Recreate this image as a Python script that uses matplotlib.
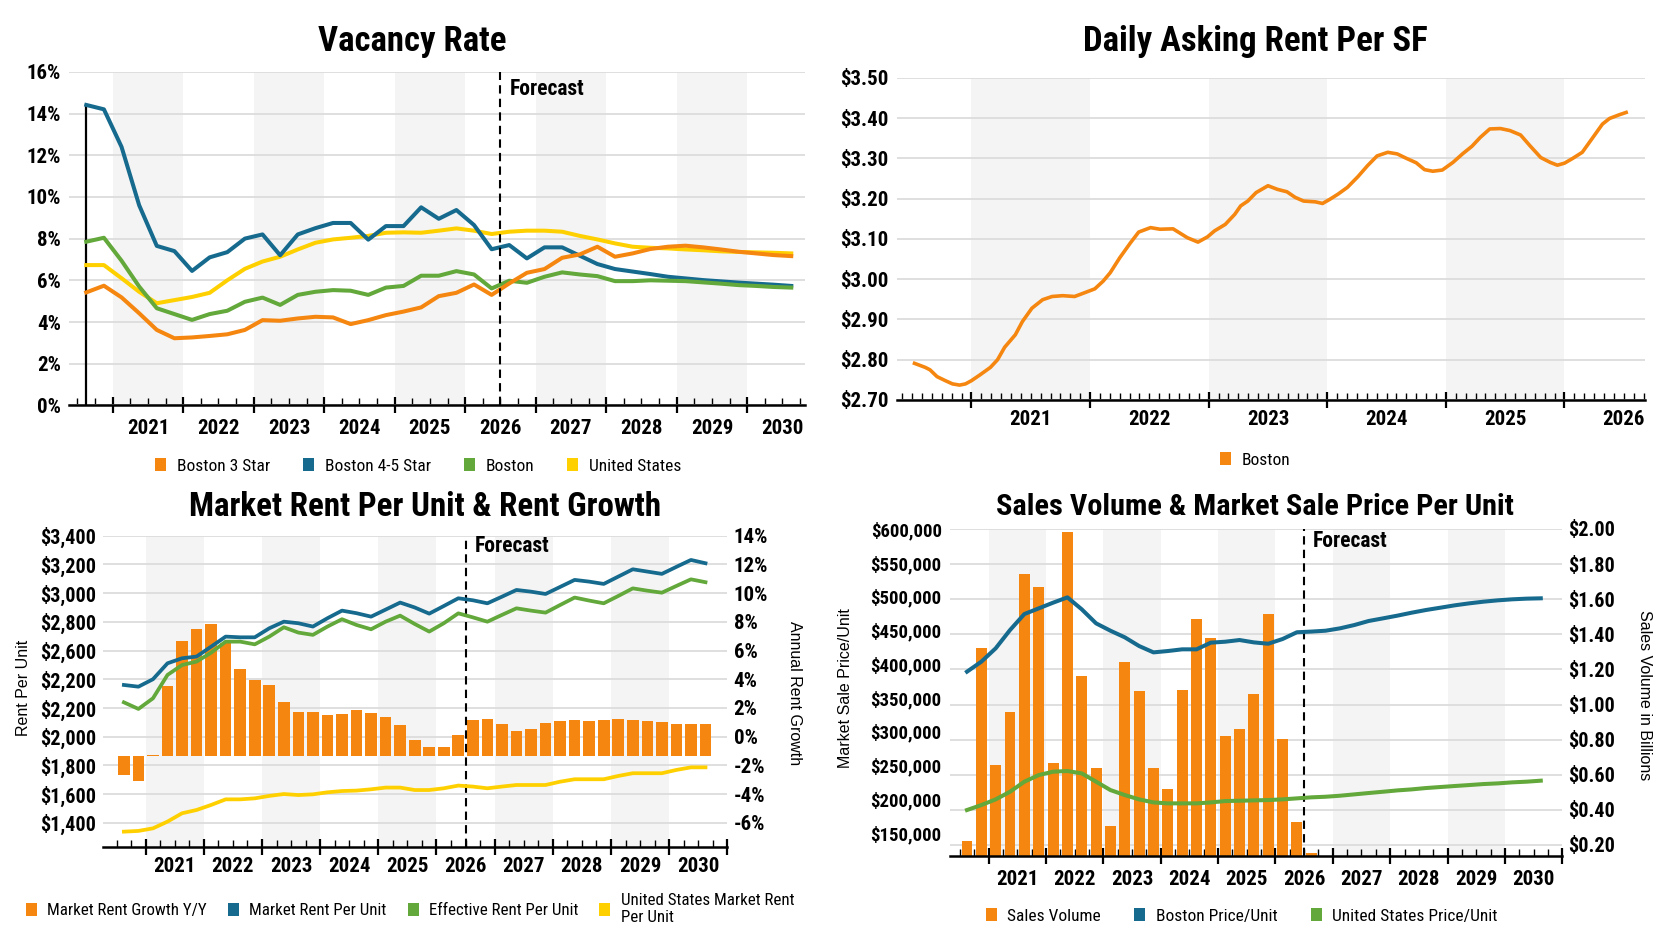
import matplotlib
matplotlib.use("Agg")
import matplotlib.pyplot as plt
from matplotlib import font_manager as fm
from matplotlib.patches import Patch
import numpy as np

# narrow face for the chart text: take the first one that is installed
_names = {f.name for f in fm.fontManager.ttflist}
PREF = ["Liberation Sans Narrow", "Arial Narrow", "Roboto Condensed", "Archivo Narrow",
        "PT Sans Narrow", "Fira Sans Condensed", "IBM Plex Sans Condensed",
        "Open Sans Condensed", "Asap Condensed", "Sofia Sans Condensed"]
NARROW = next((n for n in PREF if n in _names), "DejaVu Sans")
plt.rcParams["font.family"] = [NARROW, "DejaVu Sans"]
plt.rcParams["font.weight"] = "bold"
PLAIN = ["Liberation Sans", "DejaVu Sans"]

ORANGE = "#F5860F"
BLUE = "#156A8E"
GREEN = "#62A83A"
YELLOW = "#FFD000"
GRID = "#DCDCDC"
SHADE = "#F4F4F4"

# ---------------- data ----------------
QUARTERS = [f"{y} Q{q}" for y in range(2020, 2031) for q in range(1, 5)][2:43]
FORECAST = 2026.5

# Vacancy rate (%)
VAC_BOS3 = [5.42, 5.74, 5.18, 4.42, 3.62, 3.22, 3.26, 3.33, 3.41, 3.62,
            4.09, 4.06, 4.17, 4.25, 4.22, 3.90, 4.09, 4.33, 4.50, 4.70,
            5.24, 5.40, 5.80, 5.30, 5.85, 6.36, 6.54, 7.08, 7.24, 7.61,
            7.13, 7.29, 7.50, 7.61, 7.66, 7.58, 7.48, 7.37, 7.29, 7.21, 7.16]
VAC_BOS45 = [14.41, 14.20, 12.40, 9.60, 7.65, 7.40, 6.45, 7.10, 7.35, 8.00,
             8.20, 7.20, 8.20, 8.50, 8.75, 8.75, 7.95, 8.60, 8.60, 9.50,
             8.95, 9.37, 8.65, 7.49, 7.69, 7.05, 7.58, 7.58, 7.18, 6.78,
             6.54, 6.42, 6.30, 6.17, 6.09, 6.01, 5.95, 5.89, 5.84, 5.79, 5.73]
VAC_BOSTON = [7.85, 8.04, 6.94, 5.70, 4.66, 4.38, 4.10, 4.38, 4.54, 4.97,
              5.17, 4.82, 5.30, 5.45, 5.53, 5.50, 5.30, 5.65, 5.73, 6.22,
              6.22, 6.44, 6.28, 5.61, 5.98, 5.88, 6.17, 6.38, 6.28, 6.20,
              5.96, 5.96, 6.00, 5.98, 5.96, 5.90, 5.84, 5.77, 5.73, 5.68, 5.65]
VAC_US = [6.73, 6.73, 6.10, 5.45, 4.90, 5.05, 5.20, 5.40, 6.00, 6.55,
          6.90, 7.13, 7.48, 7.80, 7.96, 8.04, 8.13, 8.28, 8.30, 8.28,
          8.38, 8.49, 8.38, 8.22, 8.33, 8.38, 8.38, 8.33, 8.13, 7.96,
          7.77, 7.61, 7.56, 7.53, 7.48, 7.44, 7.39, 7.36, 7.34, 7.32, 7.29]
VAC_TICKS = [0, 2, 4, 6, 8, 10, 12, 14, 16]

# Daily asking rent per SF
DATES = [2020.52, 2020.61, 2020.65, 2020.71, 2020.78, 2020.84, 2020.90, 2020.95,
         2021.00, 2021.07, 2021.16, 2021.22, 2021.28, 2021.37, 2021.43, 2021.51,
         2021.60, 2021.68, 2021.77, 2021.87, 2021.96,
         2022.04, 2022.11, 2022.17, 2022.25, 2022.34, 2022.41, 2022.51, 2022.59,
         2022.70, 2022.76, 2022.82, 2022.91, 2022.99,
         2023.05, 2023.14, 2023.22, 2023.27, 2023.33, 2023.40, 2023.50, 2023.58,
         2023.66, 2023.73, 2023.80, 2023.90, 2023.96,
         2024.02, 2024.09, 2024.17, 2024.26, 2024.34, 2024.42, 2024.51, 2024.59,
         2024.66, 2024.75, 2024.82, 2024.89, 2024.97,
         2025.06, 2025.14, 2025.22, 2025.29, 2025.37, 2025.46, 2025.54, 2025.63,
         2025.71, 2025.80, 2025.88, 2025.94,
         2026.00, 2026.07, 2026.15, 2026.24, 2026.32, 2026.38, 2026.46, 2026.52]
RENT_SF = [2.791, 2.781, 2.775, 2.758, 2.748, 2.740, 2.737, 2.740,
           2.748, 2.762, 2.781, 2.800, 2.831, 2.862, 2.895, 2.928,
           2.949, 2.957, 2.959, 2.957, 2.967,
           2.976, 2.995, 3.016, 3.053, 3.090, 3.117, 3.128, 3.124,
           3.125, 3.114, 3.103, 3.092, 3.105,
           3.120, 3.136, 3.161, 3.182, 3.194, 3.215, 3.232, 3.223,
           3.217, 3.203, 3.194, 3.192, 3.188,
           3.198, 3.211, 3.228, 3.255, 3.282, 3.306, 3.315, 3.311,
           3.301, 3.289, 3.272, 3.268, 3.271,
           3.290, 3.311, 3.330, 3.352, 3.373, 3.374, 3.369, 3.358,
           3.331, 3.302, 3.290, 3.283,
           3.288, 3.300, 3.315, 3.352, 3.385, 3.399, 3.408, 3.414]
SF_TICKS = [2.70, 2.80, 2.90, 3.00, 3.10, 3.20, 3.30, 3.40, 3.50]

# Market rent per unit & growth
GROWTH = [-2.67, -3.09, -1.28, 3.53, 6.67, 7.50, 7.85, 6.55, 4.69, 3.95,
          3.60, 2.44, 1.74, 1.72, 1.51, 1.58, 1.86, 1.63, 1.35, 0.79,
          -0.26, -0.72, -0.70, 0.12, 1.16, 1.25, 0.86, 0.37, 0.53, 0.93,
          1.07, 1.14, 1.09, 1.14, 1.21, 1.18, 1.09, 1.02, 0.91, 0.88, 0.88]
BAR_BASE = -1.35
MKT_RENT = [2360, 2348, 2400, 2511, 2546, 2558, 2627, 2697, 2692, 2692,
            2755, 2801, 2790, 2767, 2825, 2878, 2860, 2836, 2885, 2934,
            2900, 2857, 2910, 2964, 2950, 2929, 2975, 3022, 3010, 2994,
            3043, 3092, 3080, 3064, 3115, 3166, 3150, 3134, 3183, 3231, 3208]
EFF_RENT = [2239, 2193, 2267, 2430, 2499, 2523, 2585, 2662, 2662, 2643,
            2697, 2762, 2725, 2709, 2767, 2818, 2778, 2748, 2801, 2843,
            2785, 2732, 2790, 2859, 2831, 2801, 2848, 2894, 2878, 2864,
            2917, 2969, 2948, 2929, 2980, 3033, 3017, 3003, 3050, 3096, 3076]
US_RENT = [1338, 1343, 1361, 1408, 1466, 1489, 1524, 1563, 1563, 1570,
           1587, 1600, 1593, 1598, 1612, 1621, 1624, 1633, 1645, 1645,
           1628, 1628, 1640, 1659, 1652, 1640, 1652, 1663, 1663, 1663,
           1686, 1703, 1703, 1703, 1726, 1745, 1745, 1745, 1768, 1786, 1786]
RENT_TICKS = [1400, 1600, 1800, 2000, 2200, 2400, 2600, 2800, 3000, 3200, 3400]
RENT_TICK_LABELS = ["$1,400", "$1,600", "$1,800", "$2,000", "$2,200", "$2,200",
                    "$2,600", "$2,800", "$3,000", "$3,200", "$3,400"]
GROWTH_TICKS = [-6, -4, -2, 0, 2, 4, 6, 8, 10, 12, 14]

# Sales volume & sale price per unit
SALES = [0.225, 1.324, 0.656, 0.956, 1.744, 1.668, 0.669, 1.981, 1.165, 0.637,
         0.308, 1.244, 1.079, 0.641, 0.519, 1.081, 1.485, 1.377, 0.821, 0.863,
         1.058, 1.516, 0.806, 0.331, 0.153]
BOS_PRICE = [388600, 403400, 423200, 450300, 474000, 482400, 490800, 498700, 481000, 460200,
             449300, 439500, 426600, 417200, 419200, 421700, 421700, 431600, 433000, 435500,
             432000, 430000, 437000, 447000, 448000, 449300, 452800, 457700, 463700, 467600,
             471600, 476000, 480000, 483400, 486900, 489800, 492300, 494300, 495800, 496800, 497300]
US_PRICE = [183600, 191000, 199400, 210700, 225600, 235400, 240400, 241400, 237900, 225600,
            213200, 205800, 199400, 194900, 193500, 193500, 193500, 194900, 196900, 197400,
            197900, 198400, 199400, 200900, 202400, 203300, 204800, 206800, 208800, 210700,
            212700, 214200, 216200, 217700, 219200, 220600, 222100, 223100, 224600, 225600, 227100]
PRICE_TICKS = [150000, 200000, 250000, 300000, 350000, 400000, 450000, 500000, 550000, 600000]
VOL_TICKS = [0.2, 0.4, 0.6, 0.8, 1.0, 1.2, 1.4, 1.6, 1.8, 2.0]


def qpos(label):
    y, q = label.split(" Q")
    return int(y) + (int(q) - 0.5) / 4


QX = np.array([qpos(q) for q in QUARTERS])

W, H = 1672, 941
fig = plt.figure(figsize=(W / 100, H / 100), dpi=100)


def box(l, t, r, b):
    return [l / W, 1 - b / H, (r - l) / W, (b - t) / H]


def year_axis(ax, x0, x1, sub, pad):
    ax.set_xlim(x0, x1)
    first, last = int(np.ceil(x0)), int(np.floor(x1))
    years = list(range(first, last + 1))
    ax.set_xticks(years)
    ax.set_xticklabels([])
    minor, labels = [], []
    for y in range(first - 1, last + 1):
        for k in range(1, sub):
            p = y + k / sub
            if x0 <= p <= x1:
                minor.append(p)
                labels.append(str(y) if (2 * k == sub and y >= first) else "")
    ax.set_xticks(minor, minor=True)
    ax.set_xticklabels(labels, minor=True)
    for y in years:
        if y % 2 == 1:
            ax.axvspan(y, y + 1, color=SHADE, lw=0, zorder=0)
    ax.tick_params(axis="x", which="major", direction="inout", length=12, width=1.6)
    ax.tick_params(axis="x", which="minor", direction="in", length=5, width=1.0,
                   labelsize=15, pad=pad)
    for s in ["top", "left", "right"]:
        ax.spines[s].set_visible(False)
    ax.spines["bottom"].set_linewidth(1.8)
    ax.grid(axis="y", color=GRID, lw=1.3)
    ax.set_axisbelow(True)


def y_ticks(ax, ticks, labels, pad, size=15):
    ax.set_yticks(ticks)
    ax.set_yticklabels(labels)
    ax.tick_params(axis="y", length=0, pad=pad, labelsize=size)


def forecast(ax, dx, dy, z=4):
    ax.axvline(FORECAST, color="black", ls=(0, (4, 2.5)), lw=1.5, zorder=z)
    ax.annotate("Forecast", xy=(FORECAST, 1), xycoords=("data", "axes fraction"),
                xytext=(dx, dy), textcoords="offset points", fontsize=15.5,
                fontweight="bold", va="baseline", ha="left")


def legend(items, x, y, spacing, size=12.5):
    handles = [Patch(facecolor=c, edgecolor="none", label=l) for l, c in items]
    fig.legend(handles=handles, loc="center", bbox_to_anchor=(x, y), ncol=len(items),
               frameon=False, prop=dict(size=size, weight="normal"),
               handlelength=0.65, handleheight=0.8, handletextpad=0.6,
               columnspacing=spacing)


def title(text, x, y, size=25):
    fig.text(x / W, 1 - y / H, text, ha="center", va="baseline",
             fontsize=size, fontweight="bold")


# ---------------- Vacancy Rate ----------------
ax1 = fig.add_axes(box(69.3, 71.8, 805, 405.4))
year_axis(ax1, 2020.384, 2030.82, 4, 9.5)
ax1.set_ylim(0, 16)
y_ticks(ax1, VAC_TICKS, [f"{v}%" for v in VAC_TICKS], 6)
ax1.plot([QX[0], QX[0]], [0, VAC_BOS45[0]], color="black", lw=1.6, zorder=3)
ax1.plot(QX, VAC_US, color=YELLOW, lw=2.9, zorder=3)
ax1.plot(QX, VAC_BOS45, color=BLUE, lw=2.9, zorder=3)
ax1.plot(QX, VAC_BOSTON, color=GREEN, lw=2.9, zorder=3)
ax1.plot(QX, VAC_BOS3, color=ORANGE, lw=2.9, zorder=3)
forecast(ax1, 7, -16.5)
title("Vacancy Rate", 412.6, 51.2)
legend([("Boston 3 Star", ORANGE), ("Boston 4-5 Star", BLUE),
        ("Boston", GREEN), ("United States", YELLOW)], 418 / W, 1 - 466 / H, 1.9)

# ---------------- Daily Asking Rent Per SF ----------------
ax2 = fig.add_axes(box(896.5, 77.8, 1645, 400))
year_axis(ax2, 2020.368, 2026.679, 12, 7)
ax2.set_ylim(2.70, 3.50)
y_ticks(ax2, SF_TICKS, [f"${v:.2f}" for v in SF_TICKS], 6)
ax2.plot(DATES, RENT_SF, color=ORANGE, lw=2.6, zorder=3)
title("Daily Asking Rent Per SF", 1255, 51.2)
legend([("Boston", ORANGE)], 1255 / W, 1 - 460 / H, 2.0)

# ---------------- Market Rent Per Unit & Rent Growth ----------------
ax3 = fig.add_axes(box(103.3, 535.7, 727.3, 847))
year_axis(ax3, 2020.271, 2031.0, 4, 7.5)
ax3l = ax3.twinx()
ax3.yaxis.tick_right()
ax3l.yaxis.tick_left()
ax3.set_ylim(-7.69, 14)
ax3l.set_ylim(1231, 3400)
y_ticks(ax3, GROWTH_TICKS, [f"{v}%" for v in GROWTH_TICKS], 4.5)
y_ticks(ax3l, RENT_TICKS, RENT_TICK_LABELS, 5, 14.5)
for s in ax3l.spines.values():
    s.set_visible(False)
ax3.bar(QX, np.array(GROWTH) - BAR_BASE, bottom=BAR_BASE, width=0.2,
        color=ORANGE, zorder=2)
forecast(ax3, 6.3, -11.5, z=3)
ax3l.plot(QX, US_RENT, color=YELLOW, lw=2.7)
ax3l.plot(QX, EFF_RENT, color=GREEN, lw=2.7)
ax3l.plot(QX, MKT_RENT, color=BLUE, lw=2.7)
title("Market Rent Per Unit & Rent Growth", 425, 516, 23.8)
fig.text(23.5 / W, 1 - 688 / H, "Rent Per Unit", rotation=90, ha="center", va="center",
         fontsize=11.5, fontweight="normal", family=PLAIN)
fig.text(794 / W, 1 - 693 / H, "Annual Rent Growth", rotation=270, ha="center",
         va="center", fontsize=11.5, fontweight="normal", family=PLAIN)
legend([("Market Rent Growth Y/Y", ORANGE), ("Market Rent Per Unit", BLUE),
        ("Effective Rent Per Unit", GREEN), ("United States Market Rent\nPer Unit", YELLOW)],
       410 / W, 1 - 909 / H, 1.25, 12.2)

# ---------------- Sales Volume & Market Sale Price Per Unit ----------------
ax4 = fig.add_axes(box(950, 529, 1562.3, 856))
year_axis(ax4, 2020.329, 2031.0, 4, 10)
ax4l = ax4.twinx()
ax4.yaxis.tick_right()
ax4l.yaxis.tick_left()
ax4.set_ylim(0.137, 2.0)
ax4l.set_ylim(115500, 600000)
y_ticks(ax4, VOL_TICKS, [f"${v:.2f}" for v in VOL_TICKS], 4, 14.5)
y_ticks(ax4l, PRICE_TICKS, [f"${v:,}" for v in PRICE_TICKS], 6, 13.5)
for s in ax4l.spines.values():
    s.set_visible(False)
ax4.bar(QX[:len(SALES)], SALES, width=0.19, color=ORANGE, zorder=2)
forecast(ax4, 6.2, -13, z=3)
ax4l.plot(QX, US_PRICE, color=GREEN, lw=2.9)
ax4l.plot(QX, BOS_PRICE, color=BLUE, lw=2.9)
title("Sales Volume & Market Sale Price Per Unit", 1255, 515, 21.8)
fig.text(845.6 / W, 1 - 688 / H, "Market Sale Price/Unit", rotation=90, ha="center",
         va="center", fontsize=11.5, fontweight="normal", family=PLAIN)
fig.text(1645 / W, 1 - 695 / H, "Sales Volume in Billions", rotation=270, ha="center",
         va="center", fontsize=11.5, fontweight="normal", family=PLAIN)
legend([("Sales Volume", ORANGE), ("Boston Price/Unit", BLUE),
        ("United States Price/Unit", GREEN)], 1241.7 / W, 1 - 916 / H, 1.9)

fig.savefig("out.png", dpi=100)
